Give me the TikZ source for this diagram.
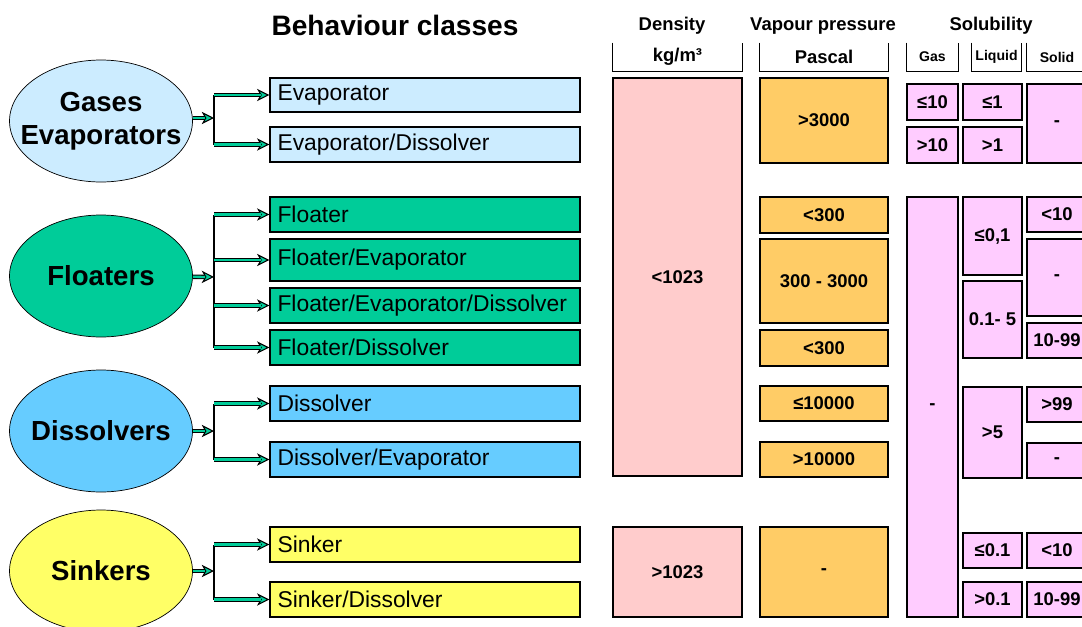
\documentclass[tikz,border=0pt]{standalone}
\usepackage{fontspec}
\setmainfont{Liberation Sans}
\usetikzlibrary{shapes.geometric,arrows.meta}

\definecolor{evapblue}{HTML}{CCECFF}
\definecolor{floatgreen}{HTML}{00CC99}
\definecolor{dissblue}{HTML}{66CCFF}
\definecolor{sinkyellow}{HTML}{FFFF66}
\definecolor{density}{HTML}{FFCCCC}
\definecolor{vapour}{HTML}{FFCC66}
\definecolor{solub}{HTML}{FFCCFF}
\colorlet{arrowgreen}{floatgreen}
\tikzset{
  title/.style={font=\bfseries\fontsize{16}{19}\selectfont},
  head/.style={font=\bfseries\fontsize{10.5}{12}\selectfont},
  unit/.style={inner sep=0pt,minimum height=0.56cm,font=\bfseries\fontsize{10.5}{12}\selectfont},
  smallunit/.style={font=\bfseries\fontsize{8}{10}\selectfont},
  group/.style={ellipse,draw,inner sep=0pt,minimum width=3.66cm,minimum height=2.44cm},
  grouptext/.style={align=center,font=\bfseries\fontsize{15.7}{19}\selectfont},
  class/.style={rectangle,draw,line width=0.8pt,minimum width=6.2cm,text width=5.9cm,
    inner xsep=0.15cm,align=left,font=\fontsize{13}{15}\selectfont},
  cell/.style={rectangle,draw,line width=0.8pt,inner sep=0pt,font=\bfseries\fontsize{10.5}{12}\selectfont},
  dens/.style={cell,fill=density,minimum width=2.58cm},
  vap/.style={cell,fill=vapour,minimum width=2.56cm},
  gascell/.style={cell,fill=solub,minimum width=1.02cm},
  liqcell/.style={cell,fill=solub,minimum width=1.18cm},
  solcell/.style={cell,fill=solub,minimum width=1.2cm},
  flow/.style={draw=black,line width=2.6pt,
    -{Stealth[length=7pt,width=7pt,inset=2pt,fill=arrowgreen,line width=0.6pt]},
    postaction={draw=arrowgreen,line width=1.3pt,-,shorten >=5pt}},
  fork/.style={draw,line width=0.8pt},
}

\begin{document}
\begin{tikzpicture}[x=0.02cm,y=-0.02cm]
  \useasboundingbox (0,0) rectangle (1082,626);

  % headings
  \node [title] at (395,25) (ttl) {Behaviour classes};
  \node [head] at (672,26) (hdens) {Density};
  \node [head] at (823,26) (hvap) {Vapour pressure};
  \node [head] at (991,26) (hsol) {Solubility};

  \node [unit,minimum width=2.58cm] at (677.5,57) (ukg) {kg/m³};
  \node [unit,minimum width=2.56cm] at (824,57) (upa) {Pascal};
  \node [unit,smallunit,minimum width=1.02cm] at (932.5,57) (ugas) {Gas};
  \node [unit,smallunit,minimum width=0.98cm] at (996.5,57) (uliq) {Liquid};
  \node [unit,smallunit,minimum width=1.2cm] at (1057,57) (usol) {Solid};
  \foreach \n in {ukg,upa,ugas,uliq,usol}
  {
    \draw (\n.north west) |- (\n.south east) -- (\n.north east);
  }

  % behaviour groups
  \node [group,fill=evapblue,label={[grouptext]center:Gases\\Evaporators}] at (101,121) (gases) {};
  \node [group,fill=floatgreen,label={[grouptext]center:Floaters}] at (101,276) (floaters) {};
  \node [group,fill=dissblue,label={[grouptext]center:Dissolvers}] at (101,431) (dissolvers) {};
  \node [group,fill=sinkyellow,label={[grouptext]center:Sinkers}] at (101,571) (sinkers) {};

  % classes
  \foreach \y/\h/\c/\n/\t in {95/0.68/evapblue/evap/Evaporator,
      144.5/0.7/evapblue/evapdis/{Evaporator/Dissolver},
      214.5/0.7/floatgreen/flo/Floater,
      260/0.84/floatgreen/floevap/{Floater/Evaporator},
      305.5/0.7/floatgreen/floevapdis/{Floater/Evaporator/Dissolver},
      347.5/0.7/floatgreen/flodis/{Floater/Dissolver},
      403.5/0.7/dissblue/dis/Dissolver,
      459.5/0.7/dissblue/disevap/{Dissolver/Evaporator},
      544.5/0.7/sinkyellow/sink/Sinker,
      599.5/0.7/sinkyellow/sinkdis/{Sinker/Dissolver}}
  {
    \node [class,fill=\c,minimum height=\h cm] at (425,\y) (\n) {\t};
  }

  % connectors
  \coordinate (fgas) at (214,118);
  \coordinate (fflo) at (214,277);
  \coordinate (fdis) at (214,431);
  \coordinate (fsink) at (214,571);
  \draw [flow] (gases.east |- fgas) -- (fgas);
  \draw [flow] (floaters) -- (fflo);
  \draw [flow] (dissolvers) -- (fdis);
  \draw [flow] (sinkers) -- (fsink);
  \draw [fork] (fgas |- evap.west) -- (fgas |- evapdis.west);
  \draw [fork] (fflo |- flo.west) -- (fflo |- flodis.west);
  \draw [fork] (fdis |- dis.west) -- (fdis |- disevap.west);
  \draw [fork] (fsink |- sink.west) -- (fsink |- sinkdis.west);
  \foreach \k in {evap,evapdis}
    \draw [flow] (fgas |- \k.west) -- (\k.west);
  \foreach \k in {flo,floevap,floevapdis,flodis}
    \draw [flow] (fflo |- \k.west) -- (\k.west);
  \foreach \k in {dis,disevap}
    \draw [flow] (fdis |- \k.west) -- (\k.west);
  \foreach \k in {sink,sinkdis}
    \draw [flow] (fsink |- \k.west) -- (\k.west);

  % density
  \node [dens,minimum height=7.96cm] at (677.5,277) (d1) {<1023};
  \node [dens,minimum height=1.8cm] at (677.5,572) (d2) {>1023};

  % vapour pressure
  \foreach \y/\h/\t [count=\i] in {120.5/1.7/>3000, 215/0.72/<300, 281/1.68/300 - 3000,
      348/0.72/<300, 403.5/0.7/≤10000, 459.5/0.7/>10000, 572/1.8/-}
  {
    \node [vap,minimum height=\h cm] at (824,\y) (vp\i) {\t};
  }

  % solubility
  \foreach \y/\h/\t [count=\i] in {102/0.72/≤10, 145/0.72/>10, 407/8.4/-}
  {
    \node [gascell,minimum height=\h cm] at (932.5,\y) (g\i) {\t};
  }
  \foreach \y/\h/\t [count=\i] in {102/0.72/≤1, 145/0.72/>1, 236/1.56/≤0{,}1,
      319.5/1.54/0.1- 5, 432.5/1.82/>5, 550.5/0.7/≤0.1, 599.5/0.7/>0.1}
  {
    \node [liqcell,minimum height=\h cm] at (992.5,\y) (l\i) {\t};
  }
  \foreach \y/\h/\t [count=\i] in {123.5/1.58/-, 214.5/0.7/<10, 277.5/1.54/-,
      340.5/0.7/10-99, 404.5/0.7/>99, 460.5/0.7/-, 550.5/0.7/<10, 599.5/0.7/10-99}
  {
    \node [solcell,minimum height=\h cm] at (1057,\y) (s\i) {\t};
  }
\end{tikzpicture}
\end{document}
